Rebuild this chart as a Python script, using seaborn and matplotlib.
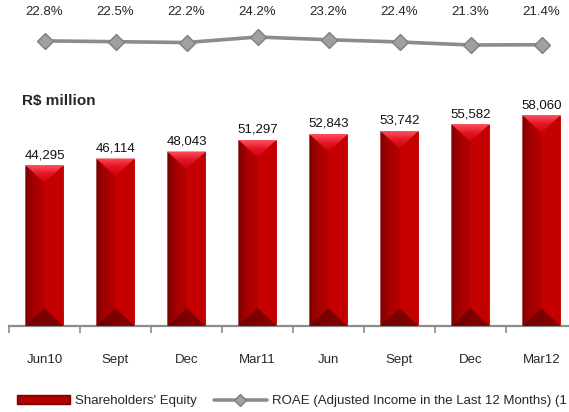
import matplotlib
matplotlib.use("Agg")
import matplotlib.pyplot as plt
import numpy as np
import seaborn as sb
from matplotlib.colors import LinearSegmentedColormap
from matplotlib.lines import Line2D
from matplotlib.patches import Patch, Polygon

periods = ["Jun10", "Sept", "Dec", "Mar11", "Jun", "Sept", "Dec", "Mar12"]
equity = [44295, 46114, 48043, 51297, 52843, 53742, 55582, 58060]
roae = [22.8, 22.5, 22.2, 24.2, 23.2, 22.4, 21.3, 21.4]

sb.set_style("white")
plt.rcParams["font.family"] = ["Liberation Sans", "DejaVu Sans"]
plt.rcParams["font.size"] = 9.5

W, H = 569, 412
fig = plt.figure(figsize=(W / 100, H / 100), dpi=100)

# bar axes (runs a bit past the right edge, like the original)
ax = fig.add_axes([9 / W, (H - 326) / H, 568 / W, 246 / H])
pos = list(range(len(periods)))
sb.barplot(x=pos, y=equity, ax=ax, color="#C40000", width=0.54,
           saturation=1, native_scale=True)
ymax = 67700
ax.set_ylim(0, ymax)
ax.set_xlim(-0.5, len(periods) - 0.5)

# pseudo-3D pyramid look on every bar
d = 18 * ymax / 246
left_cm = LinearSegmentedColormap.from_list("l", ["#7E0000", "#A80000", "#B40000"])
right_cm = LinearSegmentedColormap.from_list("r", ["#C80000", "#C20000"])
top_cm = LinearSegmentedColormap.from_list("t", ["#CC000C", "#E41424", "#FF5060"])
bot_cm = LinearSegmentedColormap.from_list("b", ["#6E0000", "#8A0000"])
grad = np.linspace(0, 1, 64).reshape(1, -1)
for p in ax.patches:
    x0, w, h = p.get_x(), p.get_width(), p.get_height()
    x1, xc = x0 + w, x0 + w / 2
    faces = [
        ([(x0, 0), (xc, d), (xc, h - d), (x0, h)], left_cm, grad, (x0, xc, 0, h)),
        ([(x1, 0), (xc, d), (xc, h - d), (x1, h)], right_cm, grad, (xc, x1, 0, h)),
        ([(x0, h), (x1, h), (xc, h - d)], top_cm, grad.T, (x0, x1, h, h - d)),
        ([(x0, 0), (x1, 0), (xc, d)], bot_cm, grad, (x0, x1, 0, d)),
    ]
    for verts, cm, g, ext in faces:
        poly = Polygon(verts, closed=True, facecolor="none", edgecolor="none")
        ax.add_patch(poly)
        im = ax.imshow(g, cmap=cm, extent=ext, aspect="auto", zorder=3,
                       interpolation="bilinear")
        im.set_clip_path(poly)
ax.set_xlim(-0.5, len(periods) - 0.5)
ax.set_ylim(0, ymax)

for x, v in zip(pos, equity):
    ax.text(x, v + 4 * ymax / 246, f"{v:,}", ha="center", va="bottom",
            fontsize=9.5, color="#111111")

for s in ["top", "right", "left"]:
    ax.spines[s].set_visible(False)
ax.spines["bottom"].set_color("#8C8C8C")
ax.spines["bottom"].set_linewidth(1.6)
ax.set_yticks([])
ax.set_xticks(pos)
ax.set_xticklabels(periods, fontsize=9.5)
ax.tick_params(axis="x", which="major", length=0, pad=20)
ax.set_xticks([i - 0.5 for i in range(len(periods) + 1)], minor=True)
ax.tick_params(axis="x", which="minor", bottom=True, length=5, width=1.2,
               color="#8C8C8C", direction="out")
ax.set_xlabel("")
ax.text(22 / W, (H - 101) / H, "R$ million", transform=fig.transFigure,
        fontsize=11, fontweight="bold", va="center", ha="left")

# ROAE line axes
ax2 = fig.add_axes([9 / W, (H - 60) / H, 568 / W, 60 / H])
ax2.plot(pos, roae, color="#8C8C8C", lw=2.6, marker="D", markersize=8.5,
         markerfacecolor="#A0A0A0", markeredgecolor="#7F7F7F", markeredgewidth=1)
ax2.set_xlim(-0.5, len(periods) - 0.5)
ax2.set_ylim(15.87, 37.6)
ax2.axis("off")
for x, v in zip(pos, roae):
    ax2.text(x, 0.8, f"{v:.1f}%", transform=ax2.get_xaxis_transform(),
             ha="center", va="center", fontsize=9.5)

handles = [
    Patch(facecolor="#B00000", edgecolor="#7A0000"),
    Line2D([0], [0], color="#8C8C8C", lw=2.6, marker="D", markersize=6,
           markerfacecolor="#A0A0A0", markeredgecolor="#7F7F7F"),
]
fig.legend(handles, ["Shareholders' Equity",
                     "ROAE (Adjusted Income in the Last 12 Months) (1"],
           loc="lower left", bbox_to_anchor=(17 / W, 5 / H), ncol=2,
           frameon=False, borderpad=0, borderaxespad=0, handlelength=4.0,
           handletextpad=0.4, columnspacing=1.3, fontsize=9.5,
           handleheight=0.6)

fig.savefig("out.png", dpi=100)
